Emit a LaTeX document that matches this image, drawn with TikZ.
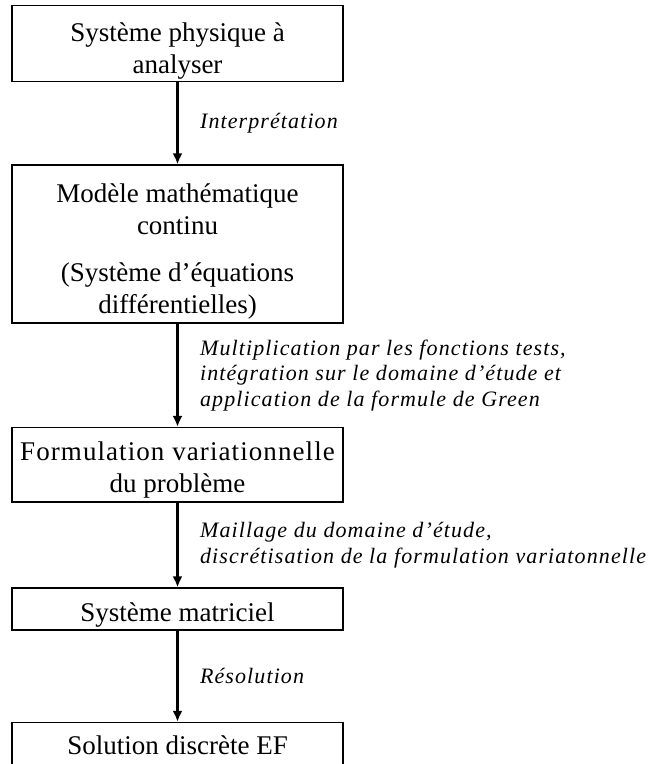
\documentclass[tikz,border=0pt]{standalone}
\usepackage{fontspec}
\setmainfont{Liberation Serif}
\newfontfamily\lblfont{Liberation Serif}[LetterSpace=5]
\usetikzlibrary{arrows.meta}
\tikzset{
  box/.style={draw=black, line width=1.3pt, minimum width=331pt, inner sep=0pt},
  boxtext/.style={inner sep=0pt, align=center, font=\fontsize{27}{32}\selectfont},
  flow/.style={line width=2.2pt, -{Latex[length=11pt,width=10pt]}},
  lbl/.style={anchor=west, inner sep=0pt, xshift=21.5pt, align=left,
    font=\lblfont\itshape\fontsize{22}{25.5}\selectfont}
}
\begin{document}
\begin{tikzpicture}[x=1pt,y=1pt]
\clip (0,0) rectangle (648,-764);
\fill[white] (0,0) rectangle (648,-764);
\node[box, minimum height=76pt] (b1) at (177.5,-43.8) {};
\node[box, minimum height=158pt] (b2) at (177.5,-244) {};
\node[box, minimum height=74.5pt] (b3) at (177.5,-464.8) {};
\node[box, minimum height=42pt] (b4) at (177.5,-609) {};
\node[box, minimum height=69pt] (b5) at (177.5,-757) {};
\node[boxtext] (t1) at (177.5,-51) {Système physique à\\analyser};
\node[boxtext] (t2) at (177.5,-251) {Modèle mathématique\\continu\\[15pt](Système d’équations\\différentielles)};
\node[boxtext] (t3) at (177.5,-470) {{\addfontfeature{LetterSpace=4}Formulation variationnelle}\\du problème};
\node[boxtext] (t4) at (177.5,-615) {Système matriciel};
\node[boxtext] (t5) at (177.5,-745) {Solution discrète EF};
\draw[flow] (b1) -- node[lbl] {Interprétation} (b2);
\draw[flow] (b2) -- node[lbl] {Multiplication par les fonctions tests,\\intégration sur le domaine d’étude et\\application de la formule de Green} (b3);
\draw[flow] (b3) -- node[lbl] {Maillage du domaine d’étude,\\discrétisation de la formulation variatonnelle} (b4);
\draw[flow] (b4) -- node[lbl] {Résolution} (b5);
\end{tikzpicture}
\end{document}
